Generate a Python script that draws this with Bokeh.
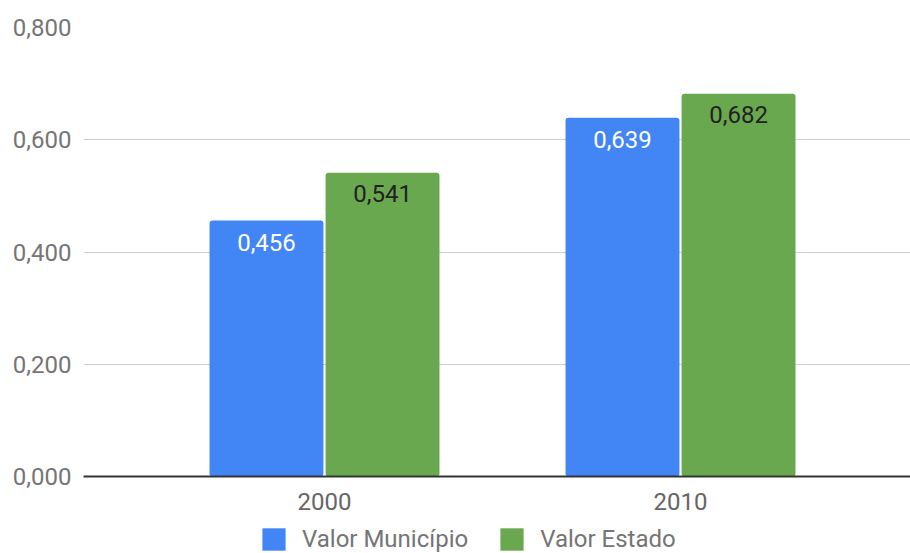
from bokeh.plotting import figure
from bokeh.layouts import column
from bokeh.models import (ColumnDataSource, Range1d, FixedTicker, CustomJSTickFormatter,
                          LabelSet, Legend, LegendItem)
from bokeh.core.properties import value
from bokeh.transform import dodge
from bokeh.embed import file_html
from bokeh.resources import INLINE

years = ["2000", "2010"]
valor_municipio = [0.456, 0.639]
valor_estado = [0.541, 0.682]
series_names = ["Valor Município", "Valor Estado"]
y_ticks = [0.0, 0.2, 0.4, 0.6, 0.8]

BLUE = "#4285F4"
GREEN = "#6AA84F"
FONT = "Roboto"
FS = "24px"

xs = list(range(len(years)))
fmt = lambda v: f"{v:.3f}".replace(".", ",")
src = ColumnDataSource(dict(
    x=xs,
    mun=valor_municipio,
    est=valor_estado,
    mun_lbl=[fmt(v) for v in valor_municipio],
    est_lbl=[fmt(v) for v in valor_estado],
))

p = figure(width=910, height=524, output_backend="svg", toolbar_location=None,
           x_range=Range1d(-0.677, 1.646), y_range=Range1d(0, 0.8),
           min_border_left=83, min_border_right=0, min_border_top=27, min_border_bottom=48)
p.outline_line_color = None
p.background_fill_color = "white"
p.border_fill_color = "white"

w = 0.32
off = 0.163
p.vbar(x=dodge("x", -off, range=p.x_range), top="mun", width=w, source=src,
       fill_color=BLUE, line_color=None, border_radius=3)
p.vbar(x=dodge("x", off, range=p.x_range), top="est", width=w, source=src,
       fill_color=GREEN, line_color=None, border_radius=3)

p.add_layout(LabelSet(x=dodge("x", -off, range=p.x_range), y="mun", text="mun_lbl", source=src,
                      y_offset=-22, text_align="center", text_baseline="middle",
                      text_color="white", text_font=value(FONT), text_font_size=FS))
p.add_layout(LabelSet(x=dodge("x", off, range=p.x_range), y="est", text="est_lbl", source=src,
                      y_offset=-21, text_align="center", text_baseline="middle",
                      text_color="#222222", text_font=value(FONT), text_font_size=FS))

# axes
p.xaxis.ticker = FixedTicker(ticks=xs)
p.xaxis.major_label_overrides = {i: y for i, y in enumerate(years)}
p.xaxis.major_tick_line_color = None
p.xaxis.minor_tick_line_color = None
p.xaxis.axis_line_color = "#333333"
p.xaxis.axis_line_width = 2
p.xaxis.major_label_text_font = FONT
p.xaxis.major_label_text_font_size = FS
p.xaxis.major_label_text_color = "#666666"
p.xaxis.major_label_standoff = 10

p.yaxis.ticker = FixedTicker(ticks=y_ticks)
p.yaxis.formatter = CustomJSTickFormatter(code="return tick.toFixed(3).replace('.', ',');")
p.yaxis.axis_line_color = None
p.yaxis.major_tick_line_color = None
p.yaxis.minor_tick_line_color = None
p.yaxis.major_label_text_font = FONT
p.yaxis.major_label_text_font_size = FS
p.yaxis.major_label_text_color = "#757575"
p.yaxis.major_label_standoff = 6

p.xgrid.grid_line_color = None
p.ygrid.grid_line_color = "#cccccc"
p.ygrid.grid_line_width = 1

# legend strip below the chart (its frame is aligned with the chart's frame)
lp = figure(width=910, height=29, output_backend="svg", toolbar_location=None,
            x_axis_type=None, y_axis_type=None, min_border=0,
            x_range=Range1d(10, 11), y_range=Range1d(10, 11))
lp.outline_line_color = None
lp.xgrid.grid_line_color = None
lp.ygrid.grid_line_color = None
# same series, drawn outside this strip's view so that only their legend swatches show
k1 = lp.vbar(x="x", top="mun", width=w, source=src, fill_color=BLUE, line_color=None)
k2 = lp.vbar(x="x", top="est", width=w, source=src, fill_color=GREEN, line_color=None)
legend = Legend(items=[LegendItem(label=series_names[0], renderers=[k1]),
                       LegendItem(label=series_names[1], renderers=[k2])],
                orientation="horizontal", location=(176, 0),
                label_text_font=FONT, label_text_font_size=FS, label_text_color="#757575",
                glyph_width=29, glyph_height=28, label_height=28, spacing=29, label_standoff=14,
                border_line_color=None, background_fill_alpha=0, padding=0, margin=0)
lp.add_layout(legend)

open("out.html", "w").write(file_html(column(p, lp, spacing=0), INLINE))
